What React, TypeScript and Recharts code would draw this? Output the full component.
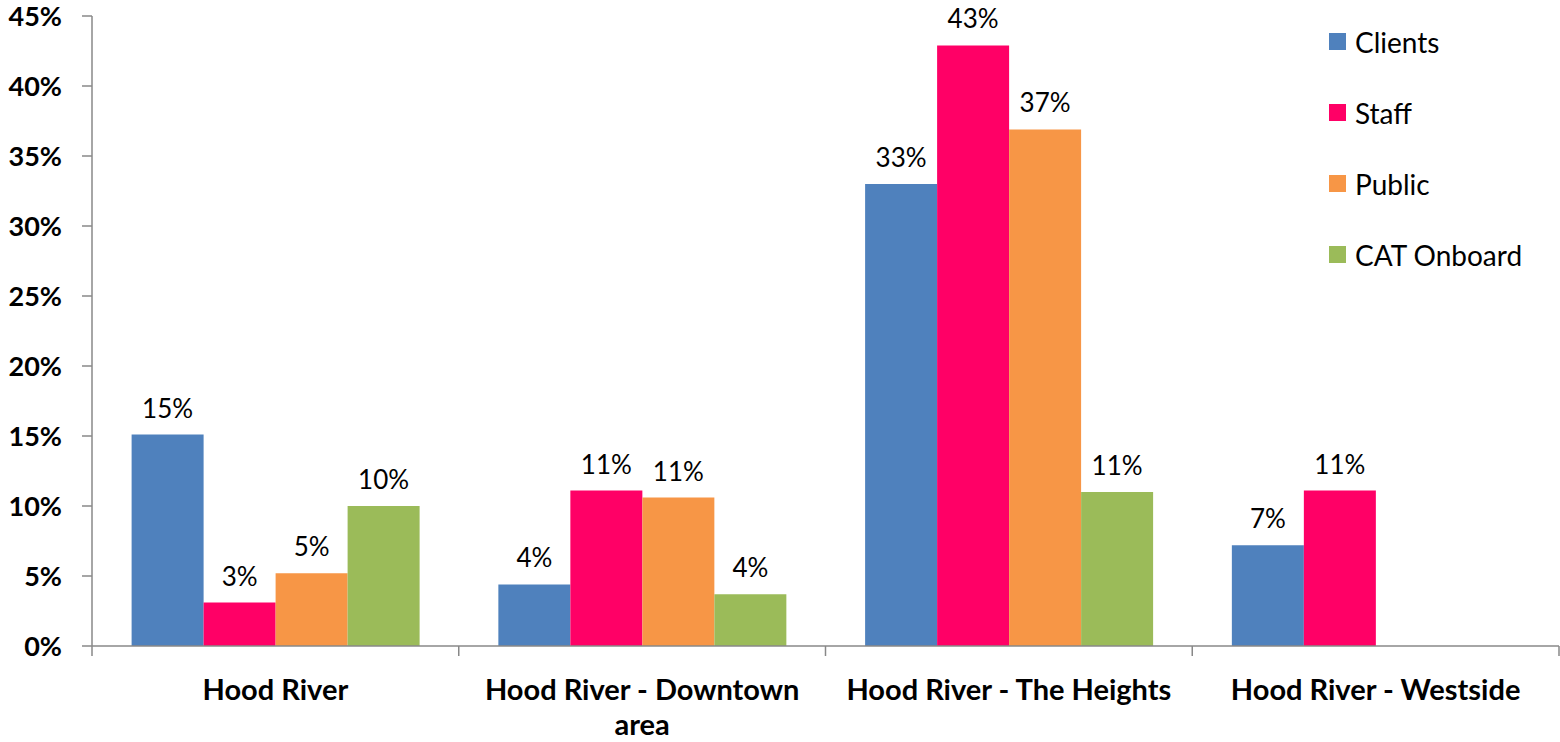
import React from "react";
import { BarChart, Bar, XAxis, YAxis, LabelList } from "recharts";

const categories = [
  "Hood River",
  "Hood River - Downtown\narea",
  "Hood River - The Heights",
  "Hood River - Westside",
];
const clients = [15.1, 4.4, 33.0, 7.2];
const staff = [3.1, 11.1, 42.9, 11.1];
const publicVals: (number | null)[] = [5.2, 10.6, 36.9, null];
const catOnboard: (number | null)[] = [10.0, 3.7, 11.0, null];
const yTicks = [0, 5, 10, 15, 20, 25, 30, 35, 40, 45];

const series = [
  { key: "clients", name: "Clients", color: "#4F81BD" },
  { key: "staff", name: "Staff", color: "#FF0066" },
  { key: "public", name: "Public", color: "#F79646" },
  { key: "cat", name: "CAT Onboard", color: "#9BBB59" },
];

const data = categories.map((c, i) => ({
  name: c,
  clients: clients[i],
  staff: staff[i],
  public: publicVals[i],
  cat: catOnboard[i],
}));

const FONT = "Lato, 'Open Sans', sans-serif";
const AXIS = "#888";

const CatTick = (props: any) => {
  const { x, y, payload, index, visibleTicksCount, width } = props;
  const lines = String(payload.value).split("\n");
  let half = payload && payload.offset > 0 ? payload.offset : 0;
  if (!half && width && visibleTicksCount) half = width / visibleTicksCount / 2;
  return (
    <g>
      {half > 0 && (
        <line x1={x - half} x2={x - half} y1={y} y2={y + 10} stroke={AXIS} strokeWidth={1.5} />
      )}
      {half > 0 && index === visibleTicksCount - 1 && (
        <line x1={x + half} x2={x + half} y1={y} y2={y + 10} stroke={AXIS} strokeWidth={1.5} />
      )}
      <text
        x={x}
        y={y + 54}
        textAnchor="middle"
        style={{ fontFamily: FONT, fontWeight: 700, fontSize: 29, fill: "#000" }}
      >
        {lines.map((l, i) => (
          <tspan key={i} x={x} dy={i === 0 ? 0 : 35}>
            {l}
          </tspan>
        ))}
      </text>
    </g>
  );
};

export default function App() {
  return (
    <div style={{ position: "absolute", left: 0, top: 0, width: 1560, height: 742, background: "#fff" }}>
      <BarChart
        width={1560}
        height={742}
        data={data}
        margin={{ top: 16, right: 1, bottom: 6, left: 0 }}
        barCategoryGap="10.8%"
        barGap={0}
      >
        <XAxis
          dataKey="name"
          type="category"
          tickLine={false}
          tickSize={0}
          tickMargin={0}
          axisLine={{ stroke: AXIS, strokeWidth: 1.5 }}
          tick={<CatTick />}
          interval={0}
          height={90}
        />
        <YAxis
          domain={[0, 45]}
          ticks={yTicks}
          width={92}
          tickSize={10}
          tickMargin={20}
          interval={0}
          tickFormatter={(v: number) => `${v}%`}
          tickLine={{ stroke: AXIS, strokeWidth: 1.5 }}
          axisLine={{ stroke: AXIS, strokeWidth: 1.5 }}
          tick={{ fontFamily: FONT, fontWeight: 700, fontSize: 27, fill: "#000" }}
        />
        {series.map((s) => (
          <Bar
            key={s.key}
            dataKey={s.key}
            name={s.name}
            fill={s.color}
            isAnimationActive={false}
          >
            <LabelList
              dataKey={s.key}
              position="top"
              offset={17}
              formatter={(v: any) => (v == null ? "" : `${Math.round(v)}%`)}
              style={{ fontFamily: FONT, fontSize: 26, fill: "#000" }}
            />
          </Bar>
        ))}
      </BarChart>
      <div
        style={{
          position: "absolute",
          left: 1329,
          top: 6,
          fontFamily: FONT,
          fontSize: 28,
          color: "#000",
        }}
      >
        {series.map((s) => (
          <div key={s.key} style={{ display: "flex", alignItems: "center", height: 71 }}>
            <div style={{ width: 17, height: 17, background: s.color, marginRight: 9 }} />
            <span>{s.name}</span>
          </div>
        ))}
      </div>
    </div>
  );
}
